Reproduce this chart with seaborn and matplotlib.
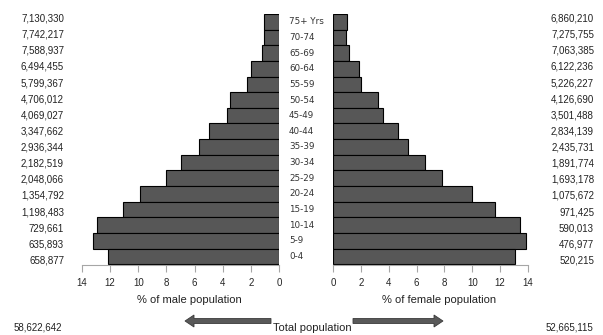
import numpy as np
import pandas as pd
import matplotlib
matplotlib.use("Agg")
import matplotlib.pyplot as plt
import matplotlib.transforms as mtransforms
from matplotlib.patches import FancyArrow
import seaborn as sns

# Data (top row first)
ages = ["75+ Yrs", "70-74", "65-69", "60-64", "55-59", "50-54", "45-49", "40-44",
        "35-39", "30-34", "25-29", "20-24", "15-19", "10-14", "5-9", "0-4"]
male_pct = [1.07, 1.05, 1.19, 1.99, 2.27, 3.48, 3.72, 4.97,
            5.69, 6.97, 8.03, 9.86, 11.07, 12.94, 13.20, 12.18]
female_pct = [1.00, 0.96, 1.13, 1.87, 2.04, 3.21, 3.62, 4.67,
              5.41, 6.63, 7.85, 9.96, 11.66, 13.45, 13.88, 13.04]
male_counts = ["7,130,330", "7,742,217", "7,588,937", "6,494,455", "5,799,367", "4,706,012",
               "4,069,027", "3,347,662", "2,936,344", "2,182,519", "2,048,066", "1,354,792",
               "1,198,483", "729,661", "635,893", "658,877"]
female_counts = ["6,860,210", "7,275,755", "7,063,385", "6,122,236", "5,226,227", "4,126,690",
                 "3,501,488", "2,834,139", "2,435,731", "1,891,774", "1,693,178", "1,075,672",
                 "971,425", "590,013", "476,977", "520,215"]
ticks = [0, 2, 4, 6, 8, 10, 12, 14]
total_male = "58,622,642"
total_female = "52,665,115"

df = pd.DataFrame({"age": ages, "male": male_pct, "female": female_pct})

sns.set_style("white")
plt.rcParams["font.family"] = ["Liberation Sans", "DejaVu Sans"]

W, H = 603, 335
fig = plt.figure(figsize=(W / 100, H / 100), dpi=100)

def px_rect(x0, x1, y0, y1):
    return [x0 / W, 1 - y1 / H, (x1 - x0) / W, (y1 - y0) / H]

bar_color = "#575757"
ax_m = fig.add_axes(px_rect(82, 279, 14, 265))
ax_f = fig.add_axes(px_rect(333, 528, 14, 265))

for ax, col in [(ax_m, "male"), (ax_f, "female")]:
    sns.barplot(data=df, x=col, y="age", orient="h", color=bar_color,
                edgecolor="black", linewidth=0.8, width=1.0, ax=ax)
    ax.set_ylim(15.55, -0.5)
    ax.set_xticks(ticks)
    ax.set_xticklabels([str(t) for t in ticks])
    ax.set_yticks([])
    ax.set_xlabel("")
    ax.set_ylabel("")
    for s in ["top", "right", "left"]:
        ax.spines[s].set_visible(False)
    ax.spines["bottom"].set_color("#a6a6a6")
    ax.spines["bottom"].set_linewidth(0.8)
    ax.tick_params(axis="x", direction="out", length=5, width=0.8, color="#a6a6a6",
                   labelsize=7, pad=4, bottom=True)
    ax.set_facecolor("none")

ax_m.set_xlim(14, 0)
ax_f.set_xlim(0, 14)

# Age labels between the two halves
trans = mtransforms.blended_transform_factory(fig.transFigure, ax_m.transData)
for i, a in enumerate(ages):
    ax_m.text(289 / W, i, a, transform=trans, ha="left", va="center",
              fontsize=6.3, family="DejaVu Sans", color="#333333")

# Overlay in pixel coordinates for the outer labels and arrows
ov = fig.add_axes([0, 0, 1, 1])
ov.set_xlim(0, W)
ov.set_ylim(H, 0)
ov.axis("off")
ov.patch.set_alpha(0)

label_y = np.linspace(18.5, 260.5, len(ages))
for y, m, f in zip(label_y, male_counts, female_counts):
    ov.text(64, y, m, ha="right", va="center", fontsize=7, color="#222222")
    ov.text(594, y, f, ha="right", va="center", fontsize=7, color="#222222")

ov.text(189, 300, "% of male population", ha="center", va="center", fontsize=8, color="#222222")
ov.text(439, 300, "% of female population", ha="center", va="center", fontsize=8, color="#222222")
ov.text(312, 328, "Total population", ha="center", va="center", fontsize=8, color="#222222")
ov.text(14, 328, total_male, ha="left", va="center", fontsize=7, color="#222222")
ov.text(593, 328, total_female, ha="right", va="center", fontsize=7, color="#222222")

for x0, dx in [(271, -86), (353, 90)]:
    ov.add_patch(FancyArrow(x0, 321, dx, 0, width=5, head_width=12, head_length=9,
                            length_includes_head=True, facecolor="#595959",
                            edgecolor="#3a3a3a", linewidth=0.6))

fig.savefig("out.png", dpi=100)
